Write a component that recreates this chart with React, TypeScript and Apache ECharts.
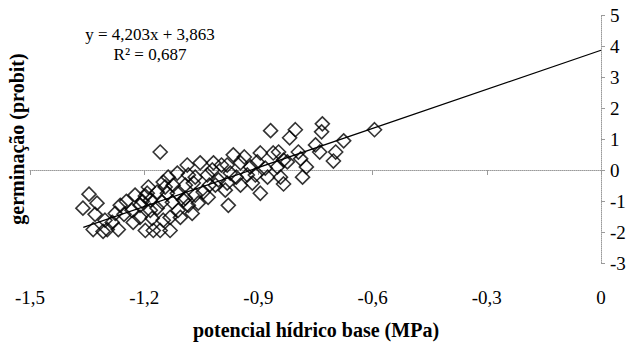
import React, { useEffect, useRef } from "react";
import * as echarts from "echarts";

// potencial hídrico base (MPa)
const potencial: number[] = [
  -1.345, -1.361, -1.324, -1.329, -1.303, -1.276, -1.297, -1.247, -1.253, -1.232,
  -1.205, -1.334, -1.308, -1.268, -1.197, -1.176, -1.211, -1.189, -1.197, -1.284,
  -1.229, -1.192, -1.184, -1.211, -1.166, -1.153, -1.166, -1.184, -1.179, -1.150,
  -1.132, -1.158, -1.132, -1.150, -1.139, -1.124, -1.113, -1.137, -1.158, -1.113,
  -1.097, -1.126, -1.111, -1.092, -1.084, -1.074, -1.105, -1.087, -1.084, -1.071,
  -1.066, -1.058, -1.066, -1.145, -1.053, -1.045, -1.032, -1.034, -1.029, -1.018,
  -1.013, -1.005, -0.997, -0.982, -0.982, -0.979, -0.974, -0.966, -0.947, -0.947,
  -0.937, -0.929, -0.921, -0.916, -0.987, -0.903, -0.895, -0.895, -0.882, -0.876,
  -0.868, -0.847, -0.850, -0.842, -0.834, -0.834, -0.824, -0.818, -0.803, -0.795,
  -0.789, -0.784, -0.774, -0.750, -0.739, -0.732, -0.734, -0.703, -0.697, -0.676,
  -0.595, -0.861, -1.021, -0.958, -0.908, -1.092, -1.263, -1.224,
];

// germinação (probit)
const germinacao: number[] = [
  -0.78, -1.23, -1.07, -1.43, -1.62, -1.40, -1.92, -1.01, -1.43, -1.30,
  -1.01, -1.92, -1.98, -1.92, -1.95, -1.95, -1.53, -0.55, -0.84, -1.69,
  -1.69, -0.75, -0.97, -1.14, -0.71, -1.04, -1.23, -1.30, -1.56, -1.62,
  -1.53, -1.95, -1.95, -0.39, -0.75, -0.49, -0.10, -0.23, 0.58, -0.75,
  -0.97, -1.04, -1.30, -0.91, -1.14, -1.40, -1.53, 0.16, -0.16, -0.42,
  -0.81, -1.07, -0.23, -0.55, 0.23, -0.71, -0.88, -0.16, -0.49, 0.23,
  -0.49, -0.32, 0.16, 0.16, -0.42, -1.14, -0.10, 0.49, 0.23, -0.49,
  0.42, -0.16, 0.10, -0.42, -0.65, 0.26, 0.55, -0.75, 0.06, -0.23,
  1.27, 0.58, 0.10, -0.23, 0.32, -0.45, 0.26, 1.04, 1.30, 0.58,
  0.36, -0.23, 0.10, 0.81, 0.58, 1.49, 1.23, 0.29, 0.58, 0.94,
  1.30, 0.55, 0.0, -0.23, -0.16, -0.49, -1.14, -0.81,
];

const slope = 4.203;
const intercept = 3.863;
const trendX: number[] = [-1.36, 0];

const xTicks = { min: -1.5, max: 0, interval: 0.3 };
const yTicks = { min: -3, max: 5, interval: 1 };

const equationText = "y = 4,203x + 3,863";
const r2Text = "R² = 0,687";
const xTitle = "potencial hídrico base (MPa)";
const yTitle = "germinação (probit)";

const FONT = "Liberation Serif";

export default function App() {
  const ref = useRef<HTMLDivElement>(null);
  useEffect(() => {
    if (!ref.current) return;
    const chart = echarts.init(ref.current, undefined, { renderer: "svg" });
    const points = potencial.map((x, i) => [x, germinacao[i]]);
    const trend = trendX.map((x) => [x, slope * x + intercept]);
    chart.setOption({
      animation: false,
      backgroundColor: "#fff",
      textStyle: { fontFamily: FONT, fontSize: 19, color: "#000" },
      grid: { left: 30, right: 29, top: 15, bottom: 82 },
      xAxis: [
        {
          type: "value",
          min: xTicks.min,
          max: xTicks.max,
          interval: xTicks.interval,
          position: "bottom",
          axisLine: { show: false, onZero: false },
          axisTick: { show: false },
          splitLine: { show: false },
          axisLabel: {
            formatter: (v: number) => (Math.abs(v) < 1e-9 ? "0" : v.toFixed(1).replace(".", ",")),
            fontFamily: FONT,
            fontSize: 19,
            color: "#000",
            margin: 25,
          },
        },
        {
          type: "value",
          min: xTicks.min,
          max: xTicks.max,
          interval: xTicks.interval,
          position: "bottom",
          axisLine: { show: true, onZero: true, lineStyle: { color: "#9a9a9a", type: "dotted", width: 1 } },
          axisTick: { show: true, length: 5, lineStyle: { color: "#9a9a9a" } },
          axisLabel: { show: false },
          splitLine: { show: false },
        },
      ],
      yAxis: {
        type: "value",
        min: yTicks.min,
        max: yTicks.max,
        interval: yTicks.interval,
        position: "right",
        axisLine: { show: true, onZero: false, lineStyle: { color: "#9a9a9a", type: "dotted", width: 1 } },
        axisTick: { show: true, length: 4, lineStyle: { color: "#9a9a9a" } },
        axisLabel: { fontFamily: FONT, fontSize: 19, color: "#000", margin: 9, padding: [5, 0, 0, 0] },
        splitLine: { show: false },
      },
      series: [
        {
          type: "scatter",
          xAxisIndex: 0,
          data: points,
          symbol: "diamond",
          symbolSize: 14,
          itemStyle: { color: "rgba(0,0,0,0)", borderColor: "#000", borderWidth: 1.6 },
          z: 3,
        },
        {
          type: "line",
          xAxisIndex: 0,
          data: trend,
          symbol: "none",
          lineStyle: { color: "#000", width: 1.3 },
          z: 4,
        },
      ],
      graphic: [
        {
          type: "text",
          x: 150,
          y: 34,
          style: { text: equationText, font: `17px ${FONT}`, fill: "#000", align: "center", verticalAlign: "middle" },
        },
        {
          type: "text",
          x: 150,
          y: 54,
          style: { text: r2Text, font: `17px ${FONT}`, fill: "#000", align: "center", verticalAlign: "middle" },
        },
        {
          type: "text",
          x: 316,
          y: 330,
          style: { text: xTitle, font: `bold 20px ${FONT}`, fill: "#000", align: "center", verticalAlign: "middle" },
        },
        {
          type: "text",
          x: 17,
          y: 139,
          rotation: Math.PI / 2,
          style: { text: yTitle, font: `bold 20px ${FONT}`, fill: "#000", align: "center", verticalAlign: "middle" },
        },
      ],
    });
    return () => chart.dispose();
  }, []);
  return (
    <div
      ref={ref}
      style={{ position: "absolute", left: 0, top: 0, width: 630, height: 345 }}
    />
  );
}
